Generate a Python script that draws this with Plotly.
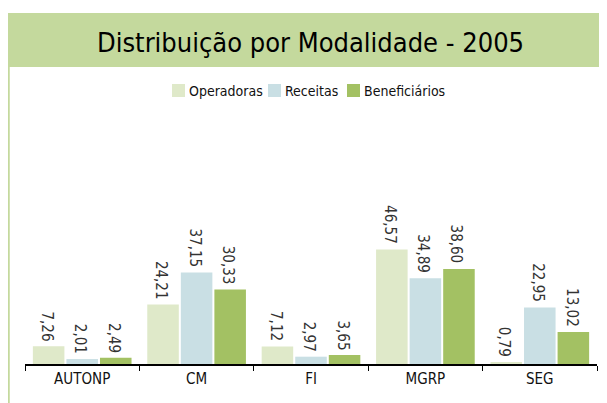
import plotly.graph_objects as go

categories = ["AUTONP", "CM", "FI", "MGRP", "SEG"]
operadoras = [7.26, 24.21, 7.12, 46.57, 0.79]
receitas = [2.01, 37.15, 2.97, 34.89, 22.95]
beneficiarios = [2.49, 30.33, 3.65, 38.60, 13.02]
series_names = ["Operadoras", "Receitas", "Beneficiários"]
colors = ["#dfe9c9", "#c9dfe4", "#a3c163"]
title_text = "Distribuição por Modalidade - 2005"

FONT = "DejaVu Sans Condensed, Liberation Sans Narrow, sans-serif"

def fmt(v):
    return f"{v:.2f}".replace(".", ",")

# page body has an 8px margin: work in reference coords, shifted by OFF
OFF = 8
W, H = 607 - OFF, 403 - OFF
ml, mr, mt, mb = 25 - OFF, 10, 118 - OFF, 39
pw, ph = W - ml - mr, H - mt - mb
BARGAP, GROUPGAP = 0.12, 0.06

def px(x):
    return (x - OFF - ml) / pw

def py(y):
    return (H - mb - (y - OFF)) / ph

fig = go.Figure()
all_series = [operadoras, receitas, beneficiarios]
for name, vals, col in zip(series_names, all_series, colors):
    fig.add_trace(go.Bar(
        x=categories, y=vals, name=name, marker=dict(color=col, line=dict(width=0)),
        showlegend=False,
    ))

shapes = [
    dict(type="rect", xref="paper", yref="paper", x0=px(7), x1=px(607), y0=py(67), y1=py(13),
         fillcolor="#c4d99d", line=dict(width=0), layer="below"),
    dict(type="line", xref="paper", yref="paper", x0=px(8.5), x1=px(8.5), y0=py(67), y1=py(403),
         line=dict(color="#c4d99d", width=2.5)),
]
annotations = [
    dict(text=title_text, xref="paper", yref="paper",
         x=px(310), y=py(42), xanchor="center", yanchor="middle", showarrow=False,
         font=dict(family=FONT, size=27, color="black")),
]

# value labels, rotated, above each bar
slot = pw / len(categories) * (1 - BARGAP) / len(all_series)
for si, vals in enumerate(all_series):
    off = (si - (len(all_series) - 1) / 2) * slot
    for cat, v in zip(categories, vals):
        annotations.append(dict(text=fmt(v), x=cat, y=v, xref="x", yref="y",
                                textangle=90, xanchor="center", yanchor="bottom",
                                xshift=off - 2, yshift=3, showarrow=False,
                                font=dict(family=FONT, size=15, color="#333333")))

# manual compact legend
legend_x = [172, 268, 347]
for name, col, lx in zip(series_names, colors, legend_x):
    shapes.append(dict(type="rect", xref="paper", yref="paper", x0=px(lx), x1=px(lx + 13),
                       y0=py(97), y1=py(84), fillcolor=col, line=dict(width=0)))
    annotations.append(dict(text=name, xref="paper", yref="paper", x=px(lx + 15), y=py(90.5),
                            xanchor="left", yanchor="middle", showarrow=False,
                            font=dict(family=FONT, size=14, color="#111111")))

fig.update_layout(
    width=W, height=H, margin=dict(l=ml, r=mr, t=mt, b=mb, autoexpand=False),
    paper_bgcolor="white", plot_bgcolor="white",
    barmode="group", bargap=BARGAP, bargroupgap=GROUPGAP,
    font=dict(family=FONT, size=14, color="#111111"),
    showlegend=False,
    xaxis=dict(showline=True, linecolor="black", linewidth=1.5, ticks="outside",
               tickson="boundaries", ticklen=5, tickcolor="black", showgrid=False,
               tickfont=dict(family=FONT, size=15, color="#111111")),
    yaxis=dict(range=[0, 100], visible=False, showgrid=False, zeroline=False),
    shapes=shapes,
    annotations=annotations,
)

fig.write_html("out.html")
